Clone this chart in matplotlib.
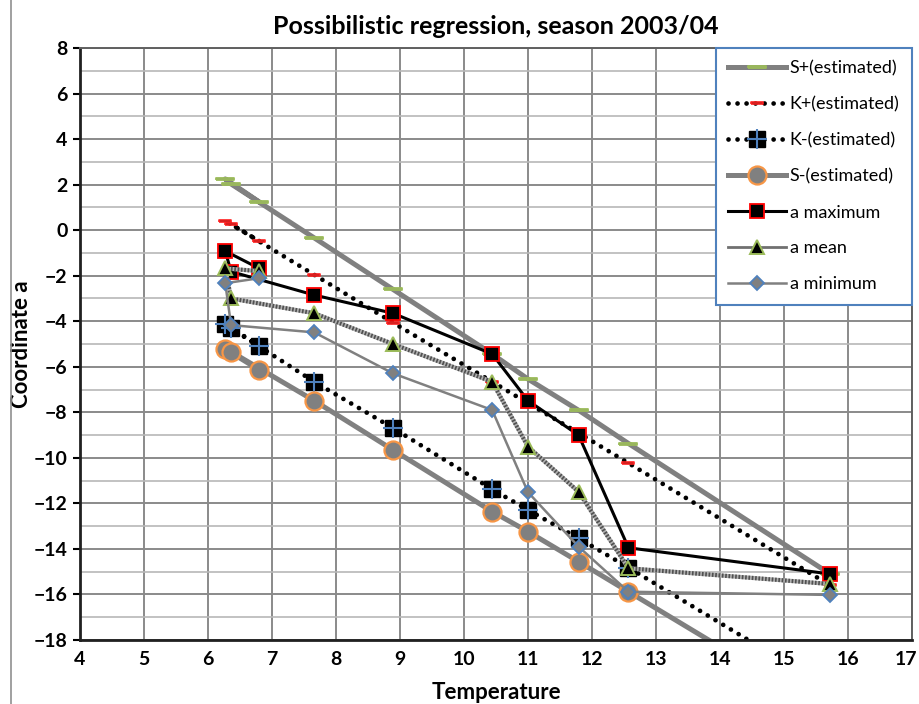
import numpy as np
import matplotlib as mpl
mpl.use('Agg')
import matplotlib.pyplot as plt
from matplotlib.lines import Line2D
from matplotlib.transforms import ScaledTranslation

# temperatures, in the order the series were entered
temperature = [6.80, 6.27, 6.36, 7.66, 8.89, 10.44, 11.00, 11.79, 12.57, 15.72]

s_plus = [1.24, 2.25, 2.03, -0.34, -2.60, -5.44, -6.54, -7.91, -9.37, -15.10]
k_plus = [-0.48, 0.42, 0.26, -1.96, -4.06, -6.66, -7.60, -8.91, -10.23, -15.60]
k_minus = [-5.09, -4.12, -4.31, -6.66, -8.69, -11.38, -12.29, -13.53, -14.82, -20.17]
s_minus = [-6.14, -5.22, -5.34, -7.49, -9.65, -12.36, -13.24, -14.56, -15.88, -21.21]
a_max = [-1.68, -0.92, -1.82, -2.85, -3.65, -5.44, -7.49, -9.00, -13.95, -15.10]
a_mean = [-1.80, -1.68, -3.00, -3.65, -5.00, -6.66, -9.51, -11.49, -14.85, -15.54]
a_min = [-2.11, -2.33, -4.17, -4.49, -6.29, -7.90, -11.51, -13.90, -15.88, -16.02]

x_ticks = np.arange(4, 18, 1)
y_ticks = np.arange(-18, 9, 2)

plt.rcParams['font.family'] = ['Lato', 'DejaVu Sans']

fig = plt.figure(figsize=(9.19, 7.04), dpi=100)
ax = fig.add_axes([80/919, 1-640/704, 832/919, 592/704])

bar = [(-2, -0.32), (2, -0.32), (2, 0.32), (-2, 0.32), (-2, -0.32)]
dots = (0, (0.01, 1.9))

h_sp, = ax.plot(temperature, s_plus, color='#808080', lw=3.6, marker=bar, ms=13,
                mfc='#8c8c8c', mec='#9bbb59', mew=1.3)
h_kp, = ax.plot(temperature, k_plus, color='black', lw=3.4, ls=dots, dash_capstyle='round',
                marker=bar, ms=8, mfc='#202020', mec='#ff2020', mew=1.2)
h_km1, = ax.plot(temperature, k_minus, color='black', lw=3.4, ls=dots, dash_capstyle='round',
                 marker='s', ms=12, mfc='black', mec='black')
h_km2, = ax.plot(temperature, k_minus, ls='none', marker='+', ms=14, mec='#4f81bd', mew=1.5)
h_sm, = ax.plot(temperature, s_minus, color='#808080', lw=3.6, marker='o', ms=13,
                mfc='#808080', mec='#f79646', mew=1.6)
h_max, = ax.plot(temperature, a_max, color='black', lw=2.2, marker='s', ms=10,
                 mfc='black', mec='#ff0000', mew=1.3)
# striped grey line for the mean
ax.plot(temperature, a_mean, color='#b0b0b0', lw=3.0)
ax.plot(temperature, a_mean, color='#505050', lw=3.0, ls=(0, (0.4, 0.4)))
h_mean, = ax.plot(temperature, a_mean, ls='none', marker='^', ms=10,
                  mfc='black', mec='#9bbb59', mew=1.4)
ax.plot(temperature, a_min, color='#808080', lw=1.8)
h_min, = ax.plot(temperature, a_min, ls='none', marker='D', ms=7.5,
                 mfc='#808080', mec='#4f81bd', mew=1.3)

# legend handles for the mean / minimum with their lines
lg_mean = Line2D([], [], color='#707070', lw=2.0, marker='^', ms=10, mfc='black', mec='#9bbb59', mew=1.4)
lg_min = Line2D([], [], color='#808080', lw=1.8, marker='D', ms=7.5, mfc='#808080', mec='#4f81bd', mew=1.3)

ax.set_xlim(4, 17)
ax.set_ylim(-18, 8)
ax.set_xticks(x_ticks)
ax.set_yticks(y_ticks)
ax.set_yticks(np.arange(-17, 8, 2), minor=True)
ax.grid(which='major', color='#8a8a8a', lw=1.4)
ax.grid(which='minor', axis='y', color='#b8b8b8', lw=1.2)
ax.set_axisbelow(True)
ax.tick_params(axis='x', length=0, pad=8, labelsize=14)
ax.tick_params(axis='y', which='major', length=5, width=1.5, pad=4, labelsize=14)
ax.tick_params(axis='y', which='minor', length=0)
for lab in ax.get_xticklabels() + ax.get_yticklabels():
    lab.set_fontweight('bold')
last = ax.get_xticklabels()[-1]
last.set_transform(last.get_transform() + ScaledTranslation(-6/100, 0, fig.dpi_scale_trans))
for s in ['left', 'bottom']:
    ax.spines[s].set_linewidth(2)
    ax.spines[s].set_color('#202020')
for s in ['top', 'right']:
    ax.spines[s].set_linewidth(1.4)
    ax.spines[s].set_color('#606060')

ax.set_title('Possibilistic regression, season 2003/04', fontsize=18, fontweight='bold', pad=10)
ax.set_xlabel('Temperature', fontsize=16, fontweight='bold', labelpad=10)
ax.set_ylabel('Coordinate a', fontsize=16, fontweight='bold')
ax.yaxis.set_label_coords(-0.058, 0.5)

leg = ax.legend([h_sp, h_kp, (h_km1, h_km2), h_sm, h_max, lg_mean, lg_min],
                ['S+(estimated)', 'K+(estimated)', 'K-(estimated)', 'S-(estimated)',
                 'a maximum', 'a mean', 'a minimum'],
                loc='upper right', bbox_to_anchor=(1, 1), borderaxespad=0, fancybox=False,
                framealpha=1, edgecolor='#4f81bd', fontsize=13, handlelength=3.2,
                labelspacing=1.1, handletextpad=0.2, borderpad=0.7)
leg.get_frame().set_linewidth(1.5)

fig.add_artist(Line2D([11/919, 11/919], [0, 1], color='#909090', lw=1.2))

fig.savefig('out.png', dpi=100)
